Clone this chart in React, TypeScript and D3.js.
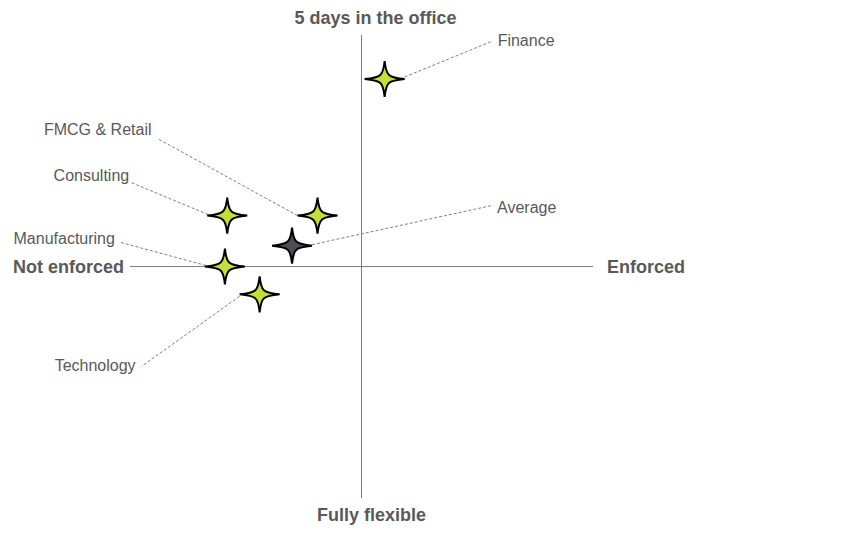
import { useEffect } from "react";
import * as d3 from "d3";

// sector positions: x = enforcement (-1 not enforced .. 1 enforced), y = office days (-1 fully flexible .. 1 five days)
const sectors = ["Finance", "FMCG & Retail", "Consulting", "Average", "Manufacturing", "Technology"];
const enforcement = [0.1, -0.19, -0.58, -0.3, -0.59, -0.44];
const officeDays = [0.81, 0.22, 0.22, 0.09, 0.0, -0.12];
const isAverage = [false, false, false, true, false, false];

// label layout, pixel offsets from each star centre
const labelLayout = [
  { tx: 113, ty: -33, anchor: "start", lx: 108, ly: -38, sx: 20, sy: -2 },
  { tx: -166, ty: -81, anchor: "end", lx: -160, ly: -77, sx: -20, sy: 0 },
  { tx: -98, ty: -35, anchor: "end", lx: -96, ly: -33, sx: -19, sy: -1 },
  { tx: 205, ty: -33, anchor: "start", lx: 199, ly: -40, sx: 20, sy: -1 },
  { tx: -110, ty: -23, anchor: "end", lx: -104, ly: -24, sx: -19, sy: -1 },
  { tx: -124, ty: 77, anchor: "end", lx: -118, ly: 72, sx: -20, sy: 2 },
];

const W = 841, H = 537;
const FONT = "'Liberation Sans', Arial, sans-serif";
const TEXT = "#595959";
const LIME = "#C4DE3A";
const DARK = "#4D4E52";

// concave four-point star
function star(rx: number, ry: number, a: number, b: number) {
  const p = d3.path();
  p.moveTo(rx, 0);
  p.bezierCurveTo(a, b, b, a, 0, ry);
  p.bezierCurveTo(-b, a, -a, b, -rx, 0);
  p.bezierCurveTo(-a, -b, -b, -a, 0, -ry);
  p.bezierCurveTo(b, -a, a, -b, rx, 0);
  p.closePath();
  return p.toString();
}

export default function App() {
  useEffect(() => {
    document.body.style.margin = "0";
  }, []);

  const x = d3.scaleLinear().domain([-1, 1]).range([130, 593]);
  const y = d3.scaleLinear().domain([-1, 1]).range([498, 35]);
  const starPath = star(20, 18, 3.4, 1.5);

  return (
    <svg width={W} height={H} style={{ display: "block", background: "#fff" }} fontFamily={FONT}>
      {/* axes */}
      <line x1={x(-1)} x2={x(1)} y1={y(0)} y2={y(0)} stroke="#7f7f7f" strokeWidth={1} />
      <line x1={x(0)} x2={x(0)} y1={y(1)} y2={y(-1)} stroke="#7f7f7f" strokeWidth={1} />
      <text x={x(0) + 14} y={24} textAnchor="middle" fontSize={18} fontWeight="bold" fill={TEXT}>5 days in the office</text>
      <text x={x(0) + 10} y={521} textAnchor="middle" fontSize={18} fontWeight="bold" fill={TEXT}>Fully flexible</text>
      <text x={x(-1) - 6} y={y(0) + 6} textAnchor="end" fontSize={18} fontWeight="bold" fill={TEXT}>Not enforced</text>
      <text x={x(1) + 14} y={y(0) + 6} textAnchor="start" fontSize={18} fontWeight="bold" fill={TEXT}>Enforced</text>

      {/* leader lines and labels */}
      {sectors.map((s, i) => {
        const cx = x(enforcement[i]), cy = y(officeDays[i]);
        const L = labelLayout[i];
        return (
          <g key={"l" + s}>
            <line x1={cx + L.sx} y1={cy + L.sy} x2={cx + L.lx} y2={cy + L.ly} stroke="#808080" strokeWidth={1} strokeDasharray="3 2" />
            <text x={cx + L.tx} y={cy + L.ty} textAnchor={L.anchor as any} fontSize={16} fill={TEXT}>{s}</text>
          </g>
        );
      })}

      {/* stars */}
      {sectors.map((s, i) => (
        <path key={"s" + s} d={starPath} transform={`translate(${x(enforcement[i])},${y(officeDays[i])})`}
          fill={isAverage[i] ? DARK : LIME} stroke="#000" strokeWidth={2} strokeLinejoin="miter" />
      ))}
    </svg>
  );
}
